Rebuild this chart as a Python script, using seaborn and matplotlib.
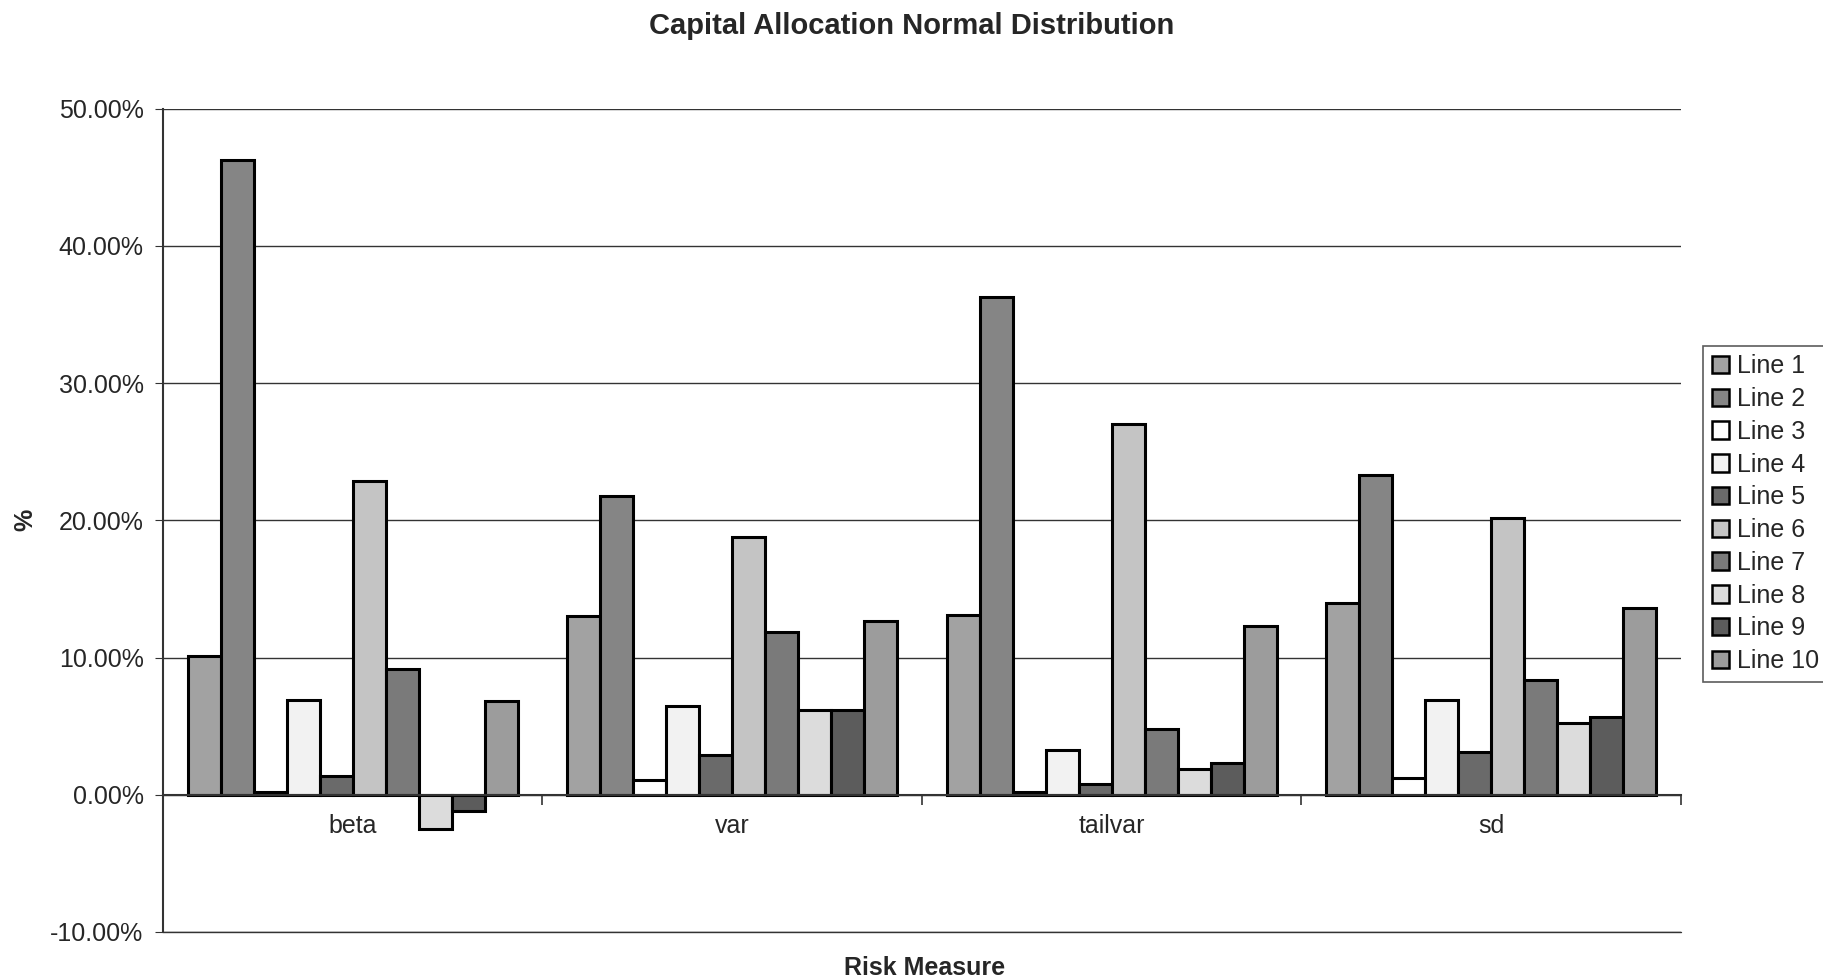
import seaborn as sns
import matplotlib.pyplot as plt
import pandas as pd
from matplotlib.ticker import PercentFormatter, FixedLocator

measures = ["beta", "var", "tailvar", "sd"]
lines = ["Line 1", "Line 2", "Line 3", "Line 4", "Line 5",
         "Line 6", "Line 7", "Line 8", "Line 9", "Line 10"]

# allocation in percent, one list per risk measure (Line 1 .. Line 10)
beta = [10.1, 46.3, 0.2, 6.9, 1.4, 22.9, 9.2, -2.5, -1.2, 6.8]
var = [13.0, 21.8, 1.1, 6.5, 2.9, 18.8, 11.9, 6.2, 6.2, 12.7]
tailvar = [13.1, 36.3, 0.2, 3.3, 0.8, 27.0, 4.8, 1.9, 2.3, 12.3]
sd = [14.0, 23.3, 1.2, 6.9, 3.1, 20.2, 8.4, 5.2, 5.7, 13.6]

colors = ["#a2a2a2", "#858585", "#ffffff", "#f2f2f2", "#6a6a6a",
          "#c4c4c4", "#7a7a7a", "#dcdcdc", "#5c5c5c", "#9c9c9c"]

rows = []
for m, vals in zip(measures, [beta, var, tailvar, sd]):
    for ln, v in zip(lines, vals):
        rows.append({"measure": m, "line": ln, "value": v})
df = pd.DataFrame(rows)

sns.set_style("white")
plt.rcParams['font.family'] = ['Liberation Sans', 'DejaVu Sans']
plt.rcParams['axes.unicode_minus'] = False

fig = plt.figure(figsize=(18.23, 9.8), dpi=100)
ax = fig.add_axes([0.0894, 0.049, 0.8326, 0.84])

sns.barplot(data=df, x="measure", y="value", hue="line", order=measures,
            hue_order=lines, palette=colors, saturation=1, errorbar=None,
            edgecolor="black", linewidth=2.2, width=0.87, ax=ax)

ax.set_xlim(-0.5, 3.5)
ax.set_ylim(-10, 50)
ax.set_yticks(range(-10, 51, 10))
ax.yaxis.set_major_formatter(PercentFormatter(xmax=100, decimals=2))
ax.yaxis.grid(True, color="#333333", linewidth=1)
ax.axhline(-10, color="#333333", linewidth=1, clip_on=False, zorder=0)
ax.set_axisbelow(True)

for s in ["top", "right"]:
    ax.spines[s].set_visible(False)
ax.spines["bottom"].set_position(("data", 0))
ax.spines["bottom"].set_linewidth(1.5)
ax.spines["left"].set_linewidth(1.5)
ax.spines["left"].set_color("#333333")
ax.spines["bottom"].set_color("#333333")

ax.tick_params(axis="x", which="major", length=0, pad=14, labelsize=18)
ax.xaxis.set_minor_locator(FixedLocator([0.5, 1.5, 2.5, 3.5]))
ax.tick_params(axis="x", which="minor", bottom=True, length=7, width=1.2,
               direction="out", color="#333333")
ax.tick_params(axis="y", length=6, direction="out", color="#333333",
               labelsize=18, pad=8, left=True)

ax.set_xlabel("")
ax.set_ylabel("")
fig.text(0.014, 0.47, "%", fontsize=18, fontweight="bold", rotation=90,
         ha="center", va="center")
fig.text(0.507, 0.005, "Risk Measure", fontsize=18, fontweight="bold", ha="center")
fig.suptitle("Capital Allocation Normal Distribution", fontsize=21,
             fontweight="bold", x=0.5, y=0.988)

leg = ax.legend(loc="center left", bbox_to_anchor=(1.0145, 0.508), fontsize=18,
                frameon=True, fancybox=False, edgecolor="#333333",
                handlelength=0.7, handleheight=0.7, handletextpad=0.3,
                labelspacing=0.35, borderpad=0.35, borderaxespad=0)
leg.get_frame().set_linewidth(1.2)
for h in leg.legend_handles:
    h.set_edgecolor("black")
    h.set_linewidth(1.8)

fig.savefig("out.png", dpi=100)
